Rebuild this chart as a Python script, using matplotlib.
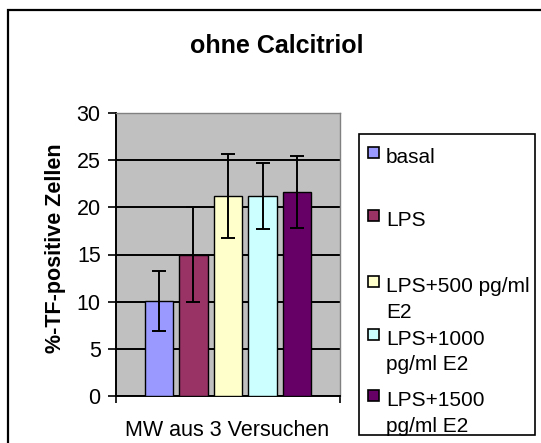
import numpy as np
import matplotlib
matplotlib.use('Agg')
import matplotlib.pyplot as plt
from matplotlib.patches import Rectangle

plt.rcParams['font.family'] = ['Liberation Sans', 'DejaVu Sans']

# Mittelwerte und Standardabweichungen (MW aus 3 Versuchen)
gruppen = ['basal', 'LPS', 'LPS+500 pg/ml\nE2', 'LPS+1000\npg/ml E2', 'LPS+1500\npg/ml E2']
mittelwerte = [10.1, 15.0, 21.2, 21.2, 21.6]
fehler = [3.2, 5.0, 4.5, 3.5, 3.8]
farben = ['#9999FF', '#993366', '#FFFFCC', '#CCFFFF', '#660066']

W, H = 541, 443
fig = plt.figure(figsize=(W / 100, H / 100), dpi=100)
fig.patch.set_facecolor('white')

def fx(px):
    return px / W

def fy(py):
    return 1 - py / H

# Rahmen um das ganze Diagramm
fig.add_artist(Rectangle((fx(8), fy(460)), fx(560) - fx(8), fy(10) - fy(460),
                         transform=fig.transFigure, fill=False,
                         edgecolor='black', lw=1.6))

ax = fig.add_axes([fx(116), fy(396), fx(340) - fx(116), fy(113) - fy(396)])
ax.set_facecolor('#C0C0C0')

x = np.arange(len(mittelwerte)) - 2
ax.bar(x, mittelwerte, width=0.82, color=farben, edgecolor='black', lw=1.0, zorder=3)
ax.errorbar(x, mittelwerte, yerr=fehler, fmt='none', ecolor='black',
            elinewidth=1.4, capsize=5, capthick=1.4, zorder=4)

ax.set_xlim(-3.245, 3.245)
ax.set_ylim(0, 30)
ax.set_yticks(range(0, 31, 5))
ax.yaxis.grid(True, color='black', lw=1.4, zorder=1)
ax.set_axisbelow(True)
ax.set_xticks([-3.245, 3.245])
ax.set_xticklabels(['', ''])
ax.tick_params(axis='y', direction='out', length=6, width=1.2, labelsize=15.5, pad=5)
ax.tick_params(axis='x', direction='out', length=5, width=1.2)
for s in ['left', 'bottom']:
    ax.spines[s].set_color('black')
    ax.spines[s].set_linewidth(1.4)
for s in ['top', 'right']:
    ax.spines[s].set_color('#808080')
    ax.spines[s].set_linewidth(1.0)

fig.text(fx(55), fy(248), '%-TF-positive Zellen', fontsize=15.5, fontweight='bold',
         rotation=90, ha='center', va='center')
fig.text(fx(227), fy(436), 'MW aus 3 Versuchen', fontsize=15.5, ha='center', va='baseline')
fig.text(fx(277), fy(53), 'ohne Calcitriol', fontsize=18, fontweight='bold',
         ha='center', va='baseline')

# Legende, jede Zeile einzeln gesetzt
fig.add_artist(Rectangle((fx(359), fy(435)), fx(535) - fx(359), fy(134) - fy(435),
                         transform=fig.transFigure, facecolor='white',
                         edgecolor='black', lw=1.2))
grundlinien = [163, 226, 292, 345, 406]
zeilenabstand = 25.5
for g, c, yb in zip(gruppen, farben, grundlinien):
    fig.add_artist(Rectangle((fx(368), fy(yb - 5)), fx(11), 11 / H,
                             transform=fig.transFigure, facecolor=c,
                             edgecolor='black', lw=1.2))
    for i, zeile in enumerate(g.split('\n')):
        fig.text(fx(386), fy(yb + i * zeilenabstand), zeile, fontsize=15,
                 ha='left', va='baseline')

fig.savefig('out.png', dpi=100)
